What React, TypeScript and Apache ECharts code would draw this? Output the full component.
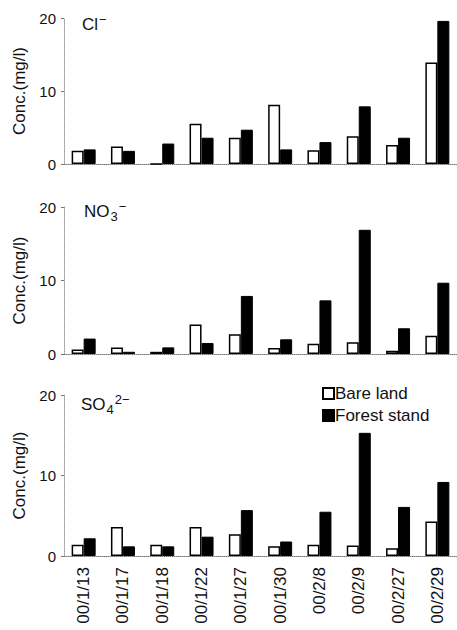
import React, { useEffect, useRef } from "react";
import * as echarts from "echarts";

const categories = ["00/1/13", "00/1/17", "00/1/18", "00/1/22", "00/1/27", "00/1/30", "00/2/8", "00/2/9", "00/2/27", "00/2/29"];
const clBare = [1.8, 2.4, 0, 5.5, 3.6, 8.1, 1.9, 3.8, 2.6, 13.9];
const clForest = [2.0, 1.8, 2.8, 3.6, 4.7, 2.0, 3.0, 7.9, 3.6, 19.6];
const no3Bare = [0.6, 0.9, 0.3, 4.0, 2.7, 0.8, 1.4, 1.6, 0.45, 2.5];
const no3Forest = [2.1, 0.3, 0.9, 1.5, 7.9, 2.0, 7.3, 16.9, 3.5, 9.7];
const so4Bare = [1.4, 3.6, 1.4, 3.6, 2.7, 1.2, 1.4, 1.3, 0.95, 4.3];
const so4Forest = [2.2, 1.2, 1.2, 2.4, 5.7, 1.8, 5.5, 15.3, 6.1, 9.2];
const yTicks = [0, 10, 20];

const FONT = "'Liberation Sans', Arial, Helvetica, sans-serif";

export default function App() {
  const ref = useRef<HTMLDivElement>(null);
  useEffect(() => {
    if (!ref.current) return;
    const chart = echarts.init(ref.current, null, { renderer: "svg" });
    const grids = [
      { left: 64, top: 18, width: 393, height: 146 },
      { left: 64, top: 207, width: 393, height: 147 },
      { left: 64, top: 395, width: 393, height: 161 },
    ];
    const pairs = [
      [clBare, clForest],
      [no3Bare, no3Forest],
      [so4Bare, so4Forest],
    ];
    const xAxis = grids.map((_, i) => ({
      type: "category",
      gridIndex: i,
      data: categories,
      axisLine: { lineStyle: { color: "#777", type: "dotted", width: 1 } },
      axisTick: { show: false },
      axisLabel: {
        show: i === 2,
        rotate: 90,
        fontSize: 17,
        color: "#111",
        fontFamily: FONT,
        margin: 11,
        interval: 0,
      },
    }));
    const yAxis = grids.map((_, i) => ({
      type: "value",
      gridIndex: i,
      min: yTicks[0],
      max: yTicks[yTicks.length - 1],
      interval: 10,
      name: "Conc.(mg/l)",
      nameLocation: "middle",
      nameGap: 32,
      nameTextStyle: { fontSize: 17, color: "#111", fontFamily: FONT },
      axisLine: { show: true, lineStyle: { color: "#999", type: "dotted", width: 1 } },
      axisTick: { show: true, length: 3, lineStyle: { color: "#777" } },
      axisLabel: { fontSize: 15, color: "#111", fontFamily: FONT, margin: 8 },
      splitLine: { show: false },
    }));
    const series: any[] = [];
    pairs.forEach((p, i) => {
      series.push({
        name: "Bare land",
        type: "bar",
        xAxisIndex: i,
        yAxisIndex: i,
        data: p[0],
        barWidth: 12,
        barGap: "0%",
        itemStyle: { color: "#fff", borderColor: "#000", borderWidth: 1.5 },
      });
      series.push({
        name: "Forest stand",
        type: "bar",
        xAxisIndex: i,
        yAxisIndex: i,
        data: p[1],
        barWidth: 12,
        barGap: "0%",
        itemStyle: { color: "#000", borderColor: "#000", borderWidth: 1 },
      });
    });
    const rich = {
      a: { fontSize: 17, fontFamily: FONT, color: "#111", fontWeight: "normal" },
      s: { fontSize: 13, fontFamily: FONT, color: "#111", fontWeight: "normal", padding: [10, 0, 0, 1] },
      p: { fontSize: 13, fontFamily: FONT, color: "#111", fontWeight: "normal", padding: [0, 0, 10, 1] },
    };
    chart.setOption({
      animation: false,
      backgroundColor: "#fff",
      grid: grids,
      xAxis,
      yAxis,
      series,
      title: [
        { text: "{a|Cl}{p|−}", left: 82, top: 13, padding: 0, textStyle: { fontWeight: "normal", rich } },
        { text: "{a|NO}{s|3}{p|−}", left: 84, top: 200, padding: 0, textStyle: { fontWeight: "normal", rich } },
        { text: "{a|SO}{s|4}{p|2−}", left: 81, top: 393, padding: 0, textStyle: { fontWeight: "normal", rich } },
      ],
      legend: {
        orient: "vertical",
        left: 322,
        top: 385,
        itemWidth: 11,
        itemHeight: 11,
        itemGap: 5,
        padding: 0,
        icon: "rect",
        data: ["Bare land", "Forest stand"],
        textStyle: { fontSize: 17, color: "#111", fontFamily: FONT, padding: [0, 0, 0, -4] },
      },
    });
    return () => chart.dispose();
  }, []);
  return <div ref={ref} style={{ position: "absolute", left: 0, top: 0, width: 457, height: 630 }} />;
}
